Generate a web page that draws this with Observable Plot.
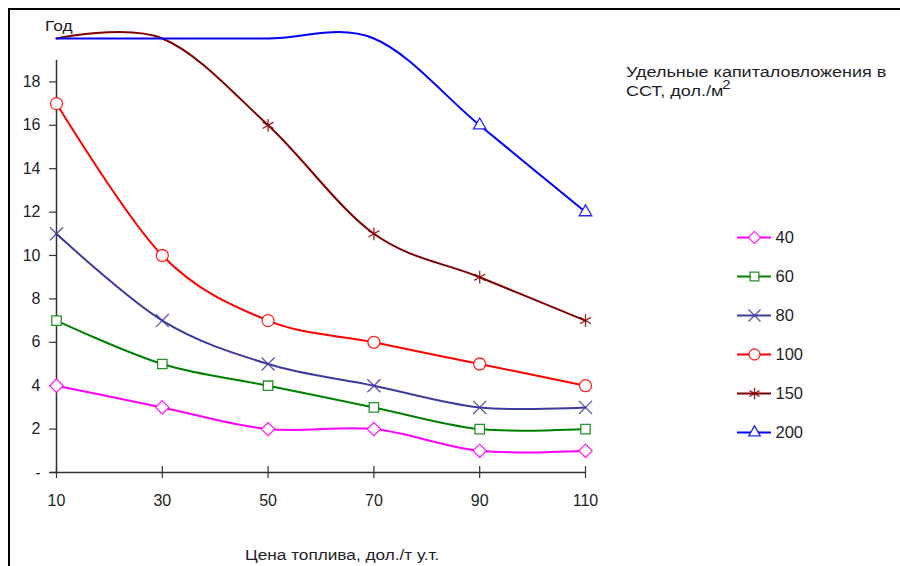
<!DOCTYPE html>
<html><head><meta charset="utf-8">
<script src="https://cdn.jsdelivr.net/npm/d3@7"></script>
<script src="https://cdn.jsdelivr.net/npm/@observablehq/plot@0.6"></script>
<style>
body{margin:0;background:#fff;font-family:"Liberation Sans",Arial,sans-serif;color:#1e1e28;}
#wrap{position:relative;width:900px;height:566px;overflow:hidden;background:#fff;}
#frame{position:absolute;left:8px;top:8px;width:1000px;height:1000px;border-left:2px solid #000;border-top:2px solid #000;box-sizing:border-box;}
#chart,#legend{position:absolute;left:0;top:0;}
#legend{left:727px;top:226px;}
.lbl{position:absolute;font-size:15.5px;white-space:nowrap;line-height:18px;transform:scaleX(1.16);transform-origin:0 0;}
#title{left:626px;top:62px;line-height:19px;}
#title sup{font-size:13px;position:relative;top:-1px;vertical-align:super;line-height:0;margin-left:-1px;}
#ylab{left:45px;top:17px;transform:scaleX(1.12);}
#xlab{left:245px;top:546px;transform:scaleX(1.11);}
</style></head>
<body>
<div id="wrap">
  <div id="frame"></div>
  <div id="chart"></div>
  <div id="legend"></div>
  <div class="lbl" id="ylab">Год</div>
  <div class="lbl" id="title">Удельные капиталовложения в<br>ССТ, дол./м<sup>2</sup></div>
  <div class="lbl" id="xlab">Цена топлива, дол./т у.т.</div>
</div>
<script>
const xValues = [10, 30, 50, 70, 90, 110];
const seriesNames = ["40", "60", "80", "100", "150", "200"];
const s40  = [4, 3, 2, 2, 1, 1];
const s60  = [7, 5, 4, 3, 2, 2];
const s80  = [11, 7, 5, 4, 3, 3];
const s100 = [17, 10, 7, 6, 5, 4];
const s150 = [20, 20, 16, 11, 9, 7];
const s200 = [20, 20, 20, 20, 16, 12];
const yTicks = [0, 2, 4, 6, 8, 10, 12, 14, 16, 18];
const yTickLabels = ["-", "2", "4", "6", "8", "10", "12", "14", "16", "18"];
const yAxisMax = 19;
const seriesColors = ["#FF00FF", "#008000", "#3C3C9C", "#FF0000", "#800000", "#0000FF"];
const seriesSymbols = ["diamond2", "square2", "times", "circle", "asterisk", "triangle2"];

const seriesValues = [s40, s60, s80, s100, s150, s200];
const rows = [];
seriesNames.forEach((name, i) => {
  xValues.forEach((x, j) => rows.push({series: name, idx: i, x, y: seriesValues[i][j]}));
});
const yTickRows = yTicks.map((v, i) => ({v, label: yTickLabels[i]}));

const axisColor = "#333";
const textColor = "#1e1e28";
const font = "'Liberation Sans', Arial, sans-serif";
const marks = [
  Plot.ruleY([0], {x1: 10, x2: 110, stroke: axisColor, strokeWidth: 1.5, insetLeft: -6}),
  Plot.ruleX([10], {y1: 0, y2: yAxisMax, stroke: axisColor, strokeWidth: 1.5}),
  Plot.ruleX(xValues, {x: d => d, y1: 0, y2: 0, insetTop: -6, insetBottom: -6, stroke: axisColor, strokeWidth: 1.2}),
  Plot.ruleY(yTicks, {y: d => d, x1: 10, x2: 10, insetLeft: -7, stroke: axisColor, strokeWidth: 1.2}),
  Plot.text(xValues, {x: d => d, y: 0, text: d => String(d), dy: 28, fontSize: 16, fill: textColor}),
  Plot.text(yTickRows, {x: 10, y: "v", text: "label", dx: -16, textAnchor: "end", fontSize: 16, fill: textColor})
];
seriesNames.forEach((name, i) => {
  const data = rows.filter(r => r.series === name);
  marks.push(Plot.line(data, {x: "x", y: "y", stroke: seriesColors[i], strokeWidth: 2, curve: "cardinal"}));
});
seriesNames.forEach((name, i) => {
  const data = rows.filter(r => r.series === name && r.y <= yAxisMax);
  marks.push(Plot.dot(data, {x: "x", y: "y", symbol: () => seriesSymbols[i], stroke: seriesColors[i], fill: "white", strokeWidth: 1.3, r: 6, strokeOpacity: 0.85}));
});

const chart = Plot.plot({
  width: 900, height: 566,
  marginLeft: 56, marginRight: 315, marginTop: 38, marginBottom: 94,
  x: {domain: [10, 110], axis: null},
  y: {domain: [0, 20], axis: null},
  symbol: {type: "identity"},
  style: {fontFamily: font, background: "transparent", overflow: "visible"},
  marks
});
document.getElementById("chart").append(chart);

const legendRows = seriesNames.map((name, i) => ({series: name, color: seriesColors[i], symbol: seriesSymbols[i]}));
const legend = Plot.plot({
  width: 100, height: 216,
  marginLeft: 10, marginRight: 56, marginTop: 10, marginBottom: 10,
  x: {domain: [0, 1], axis: null},
  y: {type: "point", domain: seriesNames, axis: null, padding: 0},
  symbol: {type: "identity"},
  style: {fontFamily: font, background: "transparent", overflow: "visible"},
  marks: [
    Plot.ruleY(legendRows, {y: "series", x1: 0, x2: 1, stroke: "color", strokeWidth: 2}),
    Plot.dot(legendRows, {x: 0.5, y: "series", symbol: "symbol", stroke: "color", fill: "white", strokeWidth: 1.3, r: 5.5, strokeOpacity: 0.85}),
    Plot.text(legendRows, {x: 1, y: "series", text: "series", dx: 4, textAnchor: "start", fontSize: 16.5, fill: textColor})
  ]
});
document.getElementById("legend").append(legend);
</script>
</body></html>
